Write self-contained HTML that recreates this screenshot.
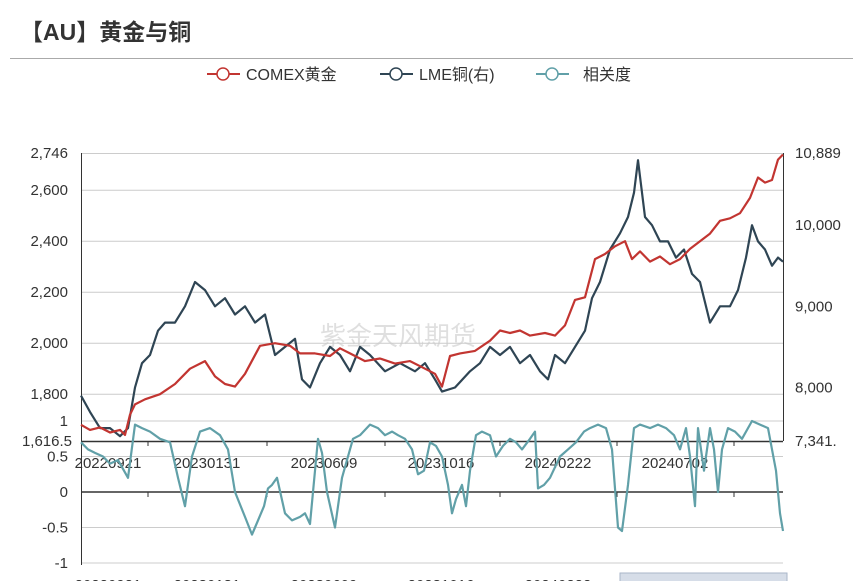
<!DOCTYPE html>
<html><head><meta charset="utf-8"><style>
body{margin:0;background:#fff;width:853px;height:581px;overflow:hidden;font-family:"Liberation Sans","Noto Sans CJK SC",sans-serif}
</style></head><body>
<svg id="c" width="853" height="581" style="position:absolute;left:0;top:0">
<text x="20" y="40" font-size="23" font-weight="bold" fill="#333">【AU】黄金与铜</text>
<line x1="10" y1="58.5" x2="853" y2="58.5" stroke="#aaa"/>
<g font-size="16" fill="#333">
<g><line x1="207" y1="74" x2="240" y2="74" stroke="#c23531" stroke-width="2"/><circle cx="223" cy="74" r="6" fill="#fff" stroke="#c23531" stroke-width="1.5"/><text x="246" y="80">COMEX黄金</text></g>
<g><line x1="380" y1="74" x2="413" y2="74" stroke="#2f4554" stroke-width="2"/><circle cx="396" cy="74" r="6" fill="#fff" stroke="#2f4554" stroke-width="1.5"/><text x="419" y="80">LME铜(右)</text></g>
<g><line x1="536" y1="74" x2="569" y2="74" stroke="#61a0a8" stroke-width="2"/><circle cx="552" cy="74" r="6" fill="#fff" stroke="#61a0a8" stroke-width="1.5"/><text x="583" y="80">相关度</text></g>
</g>
<text x="320" y="345" font-size="26" fill="#000" opacity="0.12">紫金天风期货</text>
<g id="g"></g>
</svg>
<script>
const NS="http://www.w3.org/2000/svg";
const goldX=[81,90,100,110,120,125,130,135,145,160,175,190,205,215,225,235,245,260,275,290,300,315,330,340,350,365,380,395,410,425,435,442,450,460,475,490,500,510,520,530,545,555,565,575,585,595,605,615,625,632,640,650,660,670,680,690,700,710,720,730,740,750,758,765,772,778,783];
const goldV=[1680,1660,1670,1650,1660,1640,1720,1760,1780,1800,1840,1900,1930,1870,1840,1830,1880,1990,2000,1990,1960,1960,1950,1980,1960,1930,1940,1920,1930,1900,1880,1830,1950,1960,1970,2010,2050,2040,2050,2030,2040,2030,2070,2170,2180,2330,2350,2380,2400,2330,2360,2320,2340,2310,2330,2370,2400,2430,2480,2490,2510,2570,2650,2630,2640,2720,2740];
const cuX=[81,90,100,110,120,128,135,142,150,158,165,175,185,195,205,215,225,235,245,255,265,275,285,295,302,310,320,330,340,350,360,370,385,400,415,425,435,442,455,470,480,490,500,510,520,530,540,548,555,565,575,585,592,600,610,620,628,634,638,645,652,660,668,676,684,692,700,710,720,730,738,746,752,758,765,772,778,783];
const cuV=[7900,7700,7500,7500,7400,7500,8000,8300,8400,8700,8800,8800,9000,9300,9200,9000,9100,8900,9000,8800,8900,8400,8500,8600,8100,8000,8300,8500,8400,8200,8500,8400,8200,8300,8200,8300,8100,7950,8000,8200,8300,8500,8400,8500,8300,8400,8200,8100,8400,8300,8500,8700,9100,9300,9700,9900,10100,10400,10800,10100,10000,9800,9800,9600,9700,9400,9300,8800,9000,9000,9200,9600,10000,9800,9700,9500,9600,9550];
const coX=[81,88,95,103,110,118,124,128,135,142,150,160,170,178,185,192,200,210,220,228,235,245,252,258,264,268,272,277,285,292,300,305,310,315,318,322,327,335,342,348,353,360,370,378,385,392,398,405,412,418,424,430,436,442,448,452,456,462,466,470,476,482,490,496,503,510,516,522,530,535,538,544,550,560,568,576,584,590,598,606,612,618,622,628,634,640,650,658,666,674,680,686,690,695,698,704,710,714,718,722,728,735,742,752,760,768,772,776,780,783];
const coV=[0.7,0.6,0.55,0.5,0.4,0.45,0.3,0.2,0.95,0.9,0.85,0.75,0.7,0.2,-0.2,0.5,0.85,0.9,0.8,0.6,0.0,-0.35,-0.6,-0.4,-0.2,0.05,0.1,0.2,-0.3,-0.4,-0.35,-0.3,-0.45,0.3,0.75,0.55,0.0,-0.5,0.2,0.5,0.75,0.8,0.95,0.9,0.8,0.85,0.8,0.75,0.6,0.25,0.3,0.7,0.65,0.5,0.1,-0.3,-0.1,0.1,-0.2,0.3,0.8,0.85,0.8,0.5,0.65,0.75,0.7,0.6,0.75,0.85,0.05,0.1,0.2,0.5,0.6,0.7,0.85,0.9,0.95,0.9,0.6,-0.5,-0.55,0.1,0.9,0.95,0.9,0.95,0.9,0.8,0.6,0.9,0.5,-0.2,0.9,0.3,0.9,0.6,0.0,0.6,0.9,0.85,0.75,1.0,0.95,0.9,0.6,0.3,-0.3,-0.55];
const leftTicks=[1800,2000,2200,2400,2600];
const rightTicks=[8000,9000,10000];
const corTicks=[-1,-0.5,0,0.5,1];
const xLabels=["20220921","20230131","20230609","20231016","20240222","20240702"];
const yL=v=>153+(2746-v)*(441-153)/(2746-1616.5);
const yR=v=>153+(10889-v)*(441-153)/(10889-7341);
const yC=v=>492-v*71;
const g=document.getElementById('g');
function el(t,a,txt){const e=document.createElementNS(NS,t);for(const k in a)e.setAttribute(k,a[k]);if(txt!=null)e.textContent=txt;g.appendChild(e);return e;}
function txt(x,y,s,anchor,name){const e=el('text',{x:x,y:y,'font-size':15,fill:'#333','text-anchor':anchor},s);

return e;}
// top grid
leftTicks.forEach(v=>{const l=el('line',{x1:81,x2:783,y1:yL(v),y2:yL(v),stroke:'#ccc'});


txt(68,yL(v)+5,v.toLocaleString('en-US'),'end','left-tick-label');});
el('line',{x1:81,x2:783,y1:153.5,y2:153.5,stroke:'#ccc'});
txt(68,158,'2,746','end','left-tick-label');txt(72,446,'1,616.5','end','left-tick-label');
rightTicks.forEach(v=>txt(795,yR(v)+5,v.toLocaleString('en-US'),'start','right-tick-label'));
txt(795,158,'10,889','start','right-tick-label');txt(795,446,'7,341.','start','right-tick-label');
el('line',{x1:81.5,x2:81.5,y1:153,y2:441,stroke:'#333'});
el('line',{x1:783.5,x2:783.5,y1:153,y2:441,stroke:'#333'});
// bottom grid
corTicks.forEach(v=>{const l=el('line',{x1:81,x2:783,y1:yC(v),y2:yC(v),stroke:v==0?'#333':'#ccc','stroke-width':v==0?1.5:1});


txt(68,yC(v)+5,String(v),'end','correlation-tick-label');});
el('line',{x1:81.5,x2:81.5,y1:417,y2:565,stroke:'#333'});
el('line',{x1:81,x2:783,y1:441.5,y2:441.5,stroke:'#333','stroke-width':1.5});
[148,267,385,500,617,734].forEach(x=>{el('line',{x1:x,x2:x,y1:492,y2:497,stroke:'#333'});el('line',{x1:x,x2:x,y1:441,y2:446,stroke:'#333'});});
const lx=[108,207,324,441,558,675];
xLabels.forEach((s,i)=>{txt(lx[i],468,s,'middle','x-tick-label');txt(lx[i],590,s,'middle','slider-label');});
// datazoom
const dz=el('rect',{x:620,y:573,width:167,height:10,fill:'#d6dde8',stroke:'#a9b6c9'});


function line(xs,vs,f,col,name){const p=el('polyline',{points:xs.map((x,i)=>x+','+f(vs[i]).toFixed(1)).join(' '),fill:'none',stroke:col,'stroke-width':2.2,'stroke-linejoin':'round'});

}
line(coX,coV,yC,'#61a0a8','correlation-line');
line(cuX,cuV,yR,'#2f4554','copper-line');
line(goldX,goldV,yL,'#c23531','gold-line');
</script>
</body></html>
